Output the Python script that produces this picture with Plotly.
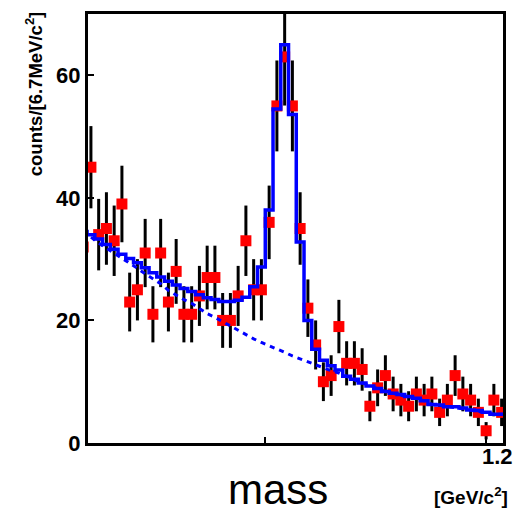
import numpy as np
import plotly.graph_objects as go

# Histogram binning (GeV): 56 bins of 7 MeV
bin_lo = 0.8325
bin_width = 0.007
n_bins = 56
mass = np.round(bin_lo + bin_width * (np.arange(n_bins) + 0.5), 4)

# Observed counts per bin
counts = [32, 45, 34, 35, 33, 39, 23, 25, 31, 21,
          31, 23, 28, 21, 21, 24, 27, 27, 20, 20,
          24, 33, 25, 25, 36, 55, 63, 55, 35, 22,
          16, 10, 11, 19, 13, 13, 12, 6, 9, 11,
          8, 7, 6, 8, 7, 8, 5, 7, 11, 8,
          7, 5, 2, 7, 5, 6]

# Total fit (signal + background), per bin
fit_total = [34.5, 34.0, 33.3, 32.4, 31.6, 30.8, 30.1, 29.4, 28.6, 27.8,
             27.1, 26.4, 25.8, 25.2, 24.7, 24.2, 23.7, 23.4, 23.1, 23.1,
             23.3, 23.8, 25.5, 28.7, 38.0, 54.5, 65.0, 53.6, 32.8, 20.0,
             15.3, 13.5, 12.6, 11.9, 10.9, 10.4, 9.8, 9.3, 8.9, 8.4,
             8.1, 7.9, 7.6, 7.3, 6.9, 6.3, 6.2, 5.9, 5.9, 5.7,
             5.4, 5.3, 5.0, 4.7, 4.7, 4.6]

# Background component of the fit
fit_bkg = [34.6, 33.6, 32.6, 31.8, 31.0, 30.1, 29.3, 28.5, 27.6, 26.8,
           26.0, 24.9, 24.1, 23.4, 22.8, 21.9, 21.1, 20.5, 19.8, 19.0,
           18.3, 17.7, 17.0, 16.4, 15.9, 15.3, 14.8, 14.2, 13.7, 13.2,
           12.7, 12.2, 11.8, 11.4, 10.8, 10.3, 9.8, 9.3, 8.9, 8.4,
           8.1, 7.8, 7.5, 7.2, 6.9, 6.3, 6.2, 5.9, 5.8, 5.6,
           5.4, 5.2, 5.0, 4.7, 4.7, 4.6]

y_ticks = [0, 20, 40, 60]
x_ticks = [1.0, 1.2]
x_end_label = "1.2"

counts_arr = np.array(counts, dtype=float)
errors = np.sqrt(counts_arr)

fig = go.Figure()

# data points with Poisson errors
fig.add_trace(go.Scatter(
    x=mass, y=counts_arr, mode="markers",
    marker=dict(symbol="square", size=11, color="#ff0000", line=dict(width=0)),
    error_y=dict(type="data", array=errors, visible=True,
                 color="black", thickness=3, width=0),
    showlegend=False,
))

# background curve (dashed)
fig.add_trace(go.Scatter(
    x=mass, y=fit_bkg, mode="lines",
    line=dict(color="#0000ff", width=3, dash="5px,5px"),
    showlegend=False,
))

# total fit as histogram steps
fig.add_trace(go.Scatter(
    x=mass, y=fit_total, mode="lines",
    line=dict(color="#0000ff", width=3.5, shape="hvh"),
    showlegend=False,
))

sans = "Liberation Sans, Arial, sans-serif"
tick_font = dict(family=sans, size=22, color="black", weight="bold")

fig.update_layout(
    width=517, height=517,
    margin=dict(l=88, r=11, t=12, b=74),
    paper_bgcolor="white", plot_bgcolor="white",
    xaxis=dict(
        range=[0.84036, 1.21525],
        showgrid=False, zeroline=False,
        showline=True, linecolor="black", linewidth=3, mirror=True,
        ticks="inside", ticklen=6, tickwidth=2, tickcolor="black",
        tickvals=x_ticks, showticklabels=False,
    ),
    yaxis=dict(
        range=[0, 70],
        showgrid=False, zeroline=False,
        showline=True, linecolor="black", linewidth=3, mirror=True,
        ticks="inside", ticklen=6, tickwidth=2, tickcolor="black",
        tickvals=y_ticks,
        tickfont=tick_font,
    ),
    annotations=[
        dict(text=x_end_label, xref="paper", yref="paper", x=0.9856, y=-0.031,
             xanchor="center", yanchor="middle", showarrow=False,
             font=tick_font),
        dict(text="mass", xref="paper", yref="paper", x=0.4568, y=-0.1079,
             xanchor="center", yanchor="middle", showarrow=False,
             font=dict(family=sans, size=42, color="black")),
        dict(text="[GeV/c<sup>2</sup>]", xref="paper", yref="paper", x=0.922, y=-0.123,
             xanchor="center", yanchor="middle", showarrow=False,
             font=dict(family=sans, size=19, color="black", weight="bold")),
        dict(text="counts/[6.7MeV/c<sup>2</sup>]", xref="paper", yref="paper",
             x=-0.131, y=0.8144, textangle=-90,
             xanchor="center", yanchor="middle", showarrow=False,
             font=dict(family=sans, size=18.5, color="black", weight="bold")),
    ],
)

fig.write_html("out.html")
